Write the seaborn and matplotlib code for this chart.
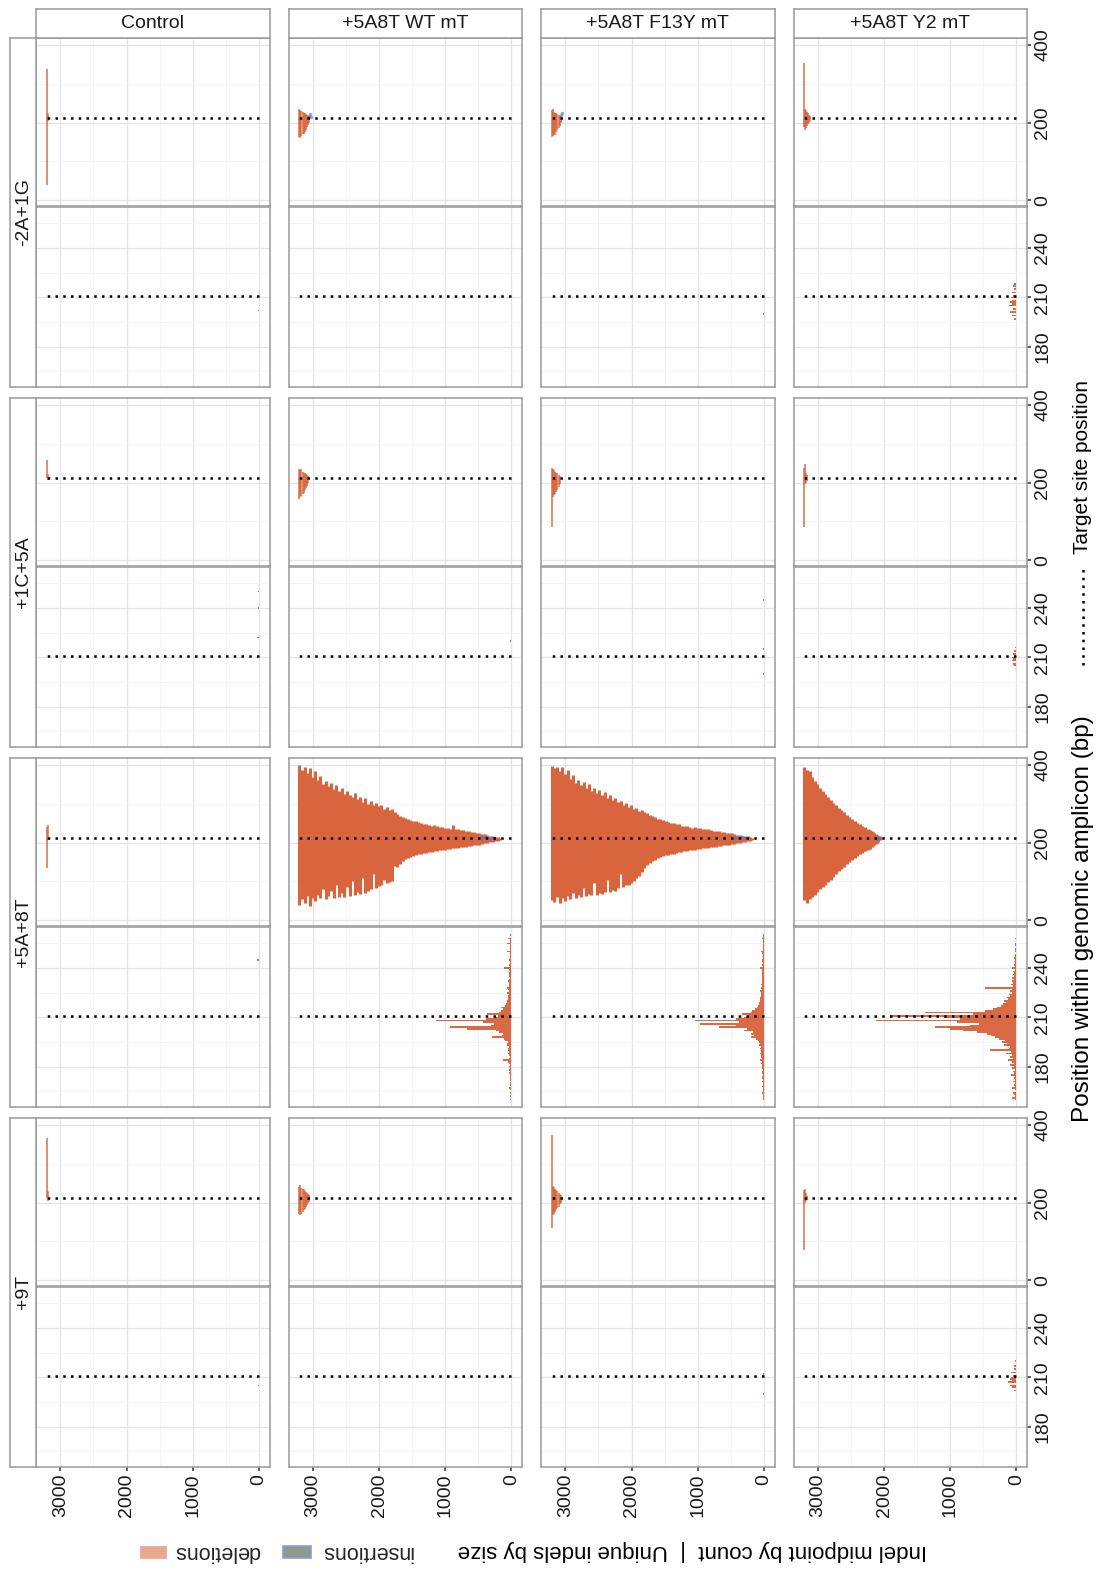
import numpy as np
import pandas as pd
import matplotlib
matplotlib.use("Agg")
import matplotlib.pyplot as plt
from matplotlib.patches import Rectangle
from matplotlib.lines import Line2D
import seaborn as sns

sns.set_theme(style="white")
plt.rcParams['font.family'] = ['Liberation Sans', 'DejaVu Sans']

# ---------------- data ----------------
columns = ['Control', '+5A8T WT mT', '+5A8T F13Y mT', '+5A8T Y2 mT']
groups = ['-2A+1G', '+1C+5A', '+5A+8T', '+9T']
value_ticks = [0, 1000, 2000, 3000]
size_ticks = [0, 200, 400]
count_ticks = [180, 210, 240]
target_site = 211
target_rank_max = 3207

# unique deletions by size: (rank, start, end)
size_ctrl_2A1G = [(3207, 40, 338), (3192, 205, 224), (3180, 208, 216)]
size_wt_2A1G = [(3207, 164, 236), (3190, 160, 232), (3172, 166, 230), (3155, 170, 228),
                (3138, 172, 226), (3120, 176, 224), (3102, 182, 222), (3085, 188, 220),
                (3068, 194, 218), (3052, 200, 216)]
size_f13y_2A1G = [(3207, 162, 232), (3190, 166, 236), (3172, 170, 228), (3155, 168, 226),
                  (3138, 176, 224), (3120, 180, 222), (3102, 186, 220), (3085, 192, 218),
                  (3068, 198, 216)]
size_y2_2A1G = [(3207, 190, 355), (3192, 180, 236), (3176, 186, 232), (3160, 192, 228),
                (3144, 196, 224), (3128, 200, 220), (3112, 204, 218)]

size_ctrl_1C5A = [(3207, 212, 258), (3192, 206, 222)]
size_wt_1C5A = [(3207, 158, 236), (3190, 162, 232), (3172, 166, 234), (3155, 170, 228),
                (3138, 174, 226), (3120, 180, 224), (3102, 186, 222), (3085, 192, 220),
                (3068, 198, 217)]
size_f13y_1C5A = [(3207, 85, 237), (3190, 164, 234), (3172, 168, 232), (3155, 172, 228),
                  (3138, 176, 226), (3120, 182, 224), (3102, 190, 220), (3085, 196, 217)]
size_y2_1C5A = [(3207, 85, 237), (3190, 196, 248), (3174, 200, 226), (3158, 204, 220)]

size_ctrl_5A8T = [(3207, 134, 240), (3192, 207, 245)]
size_wt_5A8T = [
    (3204, 40, 399), (3165, 55, 388), (3125, 45, 396), (3085, 62, 380), (3045, 36, 392),
    (3005, 58, 370), (2965, 50, 385), (2925, 66, 362), (2885, 57, 372), (2845, 80, 350),
    (2805, 56, 360), (2765, 62, 345), (2725, 75, 355), (2685, 58, 338), (2645, 92, 348),
    (2605, 61, 332), (2565, 70, 340), (2525, 59, 326), (2485, 85, 334), (2445, 63, 322),
    (2405, 100, 318), (2365, 66, 328), (2325, 72, 312), (2285, 68, 318), (2245, 110, 306),
    (2205, 70, 314), (2165, 76, 300), (2125, 80, 308), (2085, 120, 296), (2045, 84, 302),
    (2005, 88, 294), (1965, 90, 298), (1925, 105, 288), (1885, 95, 292), (1845, 98, 284),
    (1805, 102, 288), (1765, 140, 280), (1725, 138, 274), (1685, 145, 270), (1645, 152, 266),
    (1605, 158, 264), (1565, 160, 262), (1525, 164, 258), (1485, 166, 255), (1445, 168, 256),
    (1405, 170, 252), (1365, 171, 250), (1325, 173, 248), (1285, 174, 249), (1245, 176, 245),
    (1205, 177, 244), (1165, 178, 246), (1125, 179, 242), (1085, 180, 240), (1045, 181, 241),
    (1005, 182, 238), (965, 183, 239), (925, 184, 236), (885, 185, 246), (845, 186, 235),
    (805, 187, 234), (765, 188, 233), (725, 189, 232), (685, 190, 230), (645, 191, 229),
    (605, 192, 228), (565, 193, 227), (525, 194, 226), (485, 195, 224), (445, 196, 223),
    (405, 198, 222), (365, 199, 220), (325, 201, 218), (285, 202, 217), (245, 204, 215),
    (205, 205, 214), (175, 206, 213)]
size_f13y_5A8T = [
    (3204, 52, 398), (3165, 48, 392), (3125, 60, 396), (3085, 45, 385), (3045, 58, 394),
    (3005, 50, 378), (2965, 62, 388), (2925, 55, 365), (2885, 70, 375), (2845, 58, 355),
    (2805, 65, 362), (2765, 60, 348), (2725, 82, 356), (2685, 62, 340), (2645, 68, 350),
    (2605, 64, 334), (2565, 95, 342), (2525, 66, 328), (2485, 70, 336), (2445, 68, 322),
    (2405, 74, 330), (2365, 105, 316), (2325, 72, 322), (2285, 78, 310), (2245, 76, 314),
    (2205, 82, 304), (2165, 118, 308), (2125, 85, 298), (2085, 90, 302), (2045, 92, 292),
    (2005, 96, 296), (1965, 100, 288), (1925, 110, 290), (1885, 115, 282), (1845, 125, 284),
    (1805, 135, 278), (1765, 142, 276), (1725, 148, 272), (1685, 152, 268), (1645, 156, 266),
    (1605, 160, 262), (1565, 162, 260), (1525, 165, 258), (1485, 167, 255), (1445, 169, 254),
    (1405, 171, 251), (1365, 172, 250), (1325, 174, 247), (1285, 175, 248), (1245, 177, 244),
    (1205, 178, 243), (1165, 179, 244), (1125, 180, 241), (1085, 181, 239), (1045, 182, 240),
    (1005, 183, 237), (965, 184, 238), (925, 185, 235), (885, 186, 234), (845, 187, 236),
    (805, 188, 232), (765, 189, 231), (725, 190, 230), (685, 191, 229), (645, 192, 228),
    (605, 193, 227), (565, 194, 226), (525, 195, 225), (485, 196, 224), (445, 197, 222),
    (405, 198, 221), (365, 200, 220), (325, 201, 218), (285, 203, 217), (245, 204, 216),
    (205, 205, 214), (175, 206, 213)]
size_y2_5A8T = [
    (3207, 52, 394), (3185, 60, 380), (3165, 45, 388), (3145, 66, 372), (3125, 56, 384),
    (3105, 70, 360), (3085, 60, 370), (3065, 78, 352), (3045, 66, 358), (3025, 85, 345),
    (3005, 72, 350), (2985, 90, 336), (2965, 80, 342), (2945, 96, 328), (2925, 86, 334),
    (2905, 102, 320), (2885, 92, 326), (2865, 108, 312), (2845, 98, 318), (2825, 115, 304),
    (2805, 104, 310), (2785, 122, 298), (2765, 112, 302), (2745, 128, 292), (2725, 120, 296),
    (2705, 134, 286), (2685, 126, 290), (2665, 140, 280), (2645, 132, 284), (2625, 146, 274),
    (2605, 138, 278), (2585, 150, 268), (2565, 144, 272), (2545, 156, 264), (2525, 150, 266),
    (2505, 160, 258), (2485, 156, 262), (2465, 164, 254), (2445, 161, 256), (2425, 168, 250),
    (2405, 166, 251), (2385, 172, 246), (2365, 170, 247), (2345, 176, 242), (2325, 174, 243),
    (2305, 179, 239), (2285, 178, 240), (2265, 182, 236), (2245, 181, 235), (2225, 185, 232),
    (2205, 184, 232), (2185, 188, 229), (2165, 191, 227), (2145, 194, 225), (2125, 197, 222),
    (2105, 200, 220), (2085, 203, 218), (2065, 206, 216)]

size_ctrl_9T = [(3207, 212, 366), (3192, 205, 230)]
size_wt_9T = [(3207, 170, 240), (3190, 168, 245), (3172, 172, 238), (3155, 176, 236),
              (3138, 180, 234), (3120, 184, 230), (3102, 188, 228), (3085, 194, 226),
              (3068, 198, 222), (3050, 202, 219)]
size_f13y_9T = [(3207, 134, 374), (3190, 168, 244), (3172, 172, 240), (3155, 176, 236),
                (3138, 180, 232), (3120, 186, 230), (3102, 190, 226), (3085, 196, 222),
                (3068, 200, 219)]
size_y2_9T = [(3207, 77, 232), (3192, 200, 235), (3176, 204, 224), (3160, 207, 218)]

# insertions by size: (rank, position)
ins_wt_2A1G = [(3060, 218), (3040, 222), (3030, 215)]
ins_f13y_2A1G = [(3070, 220), (3050, 224)]
ins_wt_5A8T = [(450, 212), (400, 214), (350, 211), (300, 213), (260, 210)]
ins_f13y_5A8T = [(430, 213), (380, 211), (330, 214), (280, 212)]
ins_y2_5A8T = [(2110, 212), (2090, 210), (2070, 213)]

# indel midpoints by count: positions start at 160, one value per bp
count_start = 160
count_wt_5A8T = [15, 10, 25, 12, 20, 8, 18, 30, 12, 15, 22, 10, 28, 18, 25, 14, 30, 20, 35, 25,
                 40, 22, 30, 45, 120, 35, 28, 40, 50, 35, 45, 55, 40, 60, 70, 55, 90, 110, 290, 140,
                 120, 180, 240, 675, 927, 310, 260, 424, 1143, 380, 250, 200, 373, 180, 150, 120, 160, 90, 75, 60,
                 70, 50, 45, 55, 40, 60, 35, 45, 70, 30, 40, 35, 45, 30, 25, 40, 30, 35, 25, 30,
                 110, 25, 30, 20, 25, 30, 20, 25, 18, 22, 60, 20, 15, 25, 18, 60, 15, 20, 50, 12, 15]
count_f13y_5A8T = [20, 12, 18, 10, 25, 15, 12, 20, 30, 14, 18, 25, 12, 22, 30, 18, 24, 35, 20, 28,
                   30, 25, 40, 35, 60, 30, 45, 38, 55, 40, 50, 60, 48, 70, 65, 80, 95, 120, 200, 150,
                   200, 160, 300, 250, 680, 420, 960, 380, 1040, 420, 300, 220, 330, 200, 180, 140, 110, 95, 80, 70,
                   60, 55, 65, 45, 50, 40, 55, 35, 45, 30, 40, 35, 30, 25, 35, 28, 30, 22, 25, 30,
                   60, 20, 25, 18, 22, 25, 15, 20, 18, 25, 40, 15, 20, 12, 18, 15, 10, 14, 30, 10, 12]
count_y2_5A8T = [20, 60, 15, 30, 45, 10, 25, 70, 20, 35, 15, 50, 25, 40, 20, 80, 30, 45, 25, 60,
                 35, 90, 40, 70, 120, 50, 95, 60, 150, 80, 400, 110, 90, 180, 140, 220, 170, 260, 320, 380,
                 450, 600, 800, 1000, 1230, 700, 560, 900, 2121, 850, 1100, 1905, 650, 1380, 480, 350, 300, 240, 200, 160,
                 180, 120, 140, 90, 110, 70, 95, 60, 480, 55, 80, 45, 70, 40, 60, 35, 50, 30, 45, 25,
                 60, 20, 40, 25, 35, 15, 30, 20, 25, 10, 20, 15, 25, 10, 15, 20, 8, 12, 15, 10, 8]

# sparse counts (position, count)
count_ctrl_2A1G = [(202, 12), (215, 6)]
count_wt_2A1G = [(200, 8), (210, 10), (222, 6)]
count_f13y_2A1G = [(185, 6), (200, 8), (210, 10), (225, 6), (240, 6)]
count_y2_2A1G = [(197, 40), (199, 60), (201, 90), (203, 50), (205, 112), (206, 70), (207, 95),
                 (208, 60), (210, 80), (211, 45), (213, 70), (215, 35), (217, 50), (218, 30),
                 (225, 12), (240, 8)]
count_ctrl_1C5A = [(222, 25), (240, 20), (250, 12)]
count_wt_1C5A = [(190, 10), (220, 15), (239, 12), (250, 10)]
count_f13y_1C5A = [(180, 6), (200, 8), (215, 8), (245, 10)]
count_y2_1C5A = [(205, 40), (206, 55), (208, 70), (209, 45), (210, 60), (212, 50), (214, 35), (216, 20)]
count_ctrl_5A8T = [(245, 30)]
count_ctrl_9T = [(205, 8), (235, 6)]
count_wt_9T = [(188, 12), (210, 10), (220, 8)]
count_f13y_9T = [(175, 6), (200, 8), (212, 10), (230, 6), (250, 6)]
count_y2_9T = [(202, 30), (204, 60), (205, 90), (207, 125), (208, 70), (209, 100), (210, 80),
               (211, 55), (213, 75), (215, 40), (217, 30), (220, 20), (230, 10), (245, 8)]

size_data = {
    ('-2A+1G', 0): size_ctrl_2A1G, ('-2A+1G', 1): size_wt_2A1G, ('-2A+1G', 2): size_f13y_2A1G, ('-2A+1G', 3): size_y2_2A1G,
    ('+1C+5A', 0): size_ctrl_1C5A, ('+1C+5A', 1): size_wt_1C5A, ('+1C+5A', 2): size_f13y_1C5A, ('+1C+5A', 3): size_y2_1C5A,
    ('+5A+8T', 0): size_ctrl_5A8T, ('+5A+8T', 1): size_wt_5A8T, ('+5A+8T', 2): size_f13y_5A8T, ('+5A+8T', 3): size_y2_5A8T,
    ('+9T', 0): size_ctrl_9T, ('+9T', 1): size_wt_9T, ('+9T', 2): size_f13y_9T, ('+9T', 3): size_y2_9T,
}
ins_data = {('-2A+1G', 1): ins_wt_2A1G, ('-2A+1G', 2): ins_f13y_2A1G,
            ('+5A+8T', 1): ins_wt_5A8T, ('+5A+8T', 2): ins_f13y_5A8T, ('+5A+8T', 3): ins_y2_5A8T}
dense_counts = {('+5A+8T', 1): count_wt_5A8T, ('+5A+8T', 2): count_f13y_5A8T, ('+5A+8T', 3): count_y2_5A8T}
sparse_counts = {
    ('-2A+1G', 0): count_ctrl_2A1G, ('-2A+1G', 1): count_wt_2A1G, ('-2A+1G', 2): count_f13y_2A1G, ('-2A+1G', 3): count_y2_2A1G,
    ('+1C+5A', 0): count_ctrl_1C5A, ('+1C+5A', 1): count_wt_1C5A, ('+1C+5A', 2): count_f13y_1C5A, ('+1C+5A', 3): count_y2_1C5A,
    ('+5A+8T', 0): count_ctrl_5A8T,
    ('+9T', 0): count_ctrl_9T, ('+9T', 1): count_wt_9T, ('+9T', 2): count_f13y_9T, ('+9T', 3): count_y2_9T,
}

# ---------------- styling / layout ----------------
DEL = '#D55A30'
DEL_BIG = '#D9653F'
INS = '#4B6BD6'
BORDER = '#9A9A9A'
TXT = '#1A1A1A'
W, H = 1102, 1574
fig = plt.figure(figsize=(W / 100, H / 100), dpi=100)

COL_L = [36, 288.5, 541, 793.5]
COL_W = 233.5
GROUP_T = [37.7, 397.7, 757.7, 1117.7]
TOP_H = 168.0
LOW_OFF = 169.5
LOW_H = 179.5
VLIM = (3367, -160)
TOP_LIM = (-14, 419)
LOW_LIM = (155.6, 264.9)


def add_ax(l, t, w, h):
    return fig.add_axes([l / W, 1 - (t + h) / H, w / W, h / H])


def style(ax, ylim, ymaj, ymin, bottom, right):
    ax.set_xlim(*VLIM)
    ax.set_ylim(*ylim)
    ax.set_facecolor('white')
    ax.set_xticks(value_ticks)
    ax.set_xticks([500, 1500, 2500], minor=True)
    ax.set_yticks(ymaj)
    ax.set_yticks(ymin, minor=True)
    ax.grid(which='major', color='#E4E4E4', lw=0.9)
    ax.grid(which='minor', color='#F3F3F3', lw=0.6)
    ax.set_axisbelow(True)
    for s in ax.spines.values():
        s.set_color(BORDER)
        s.set_linewidth(1.1)
    ax.tick_params(which='minor', length=0)
    ax.tick_params(axis='x', which='major', bottom=bottom, labelbottom=bottom, top=False,
                   length=3.2, width=1.1, color='#333333', labelsize=14, labelcolor=TXT,
                   labelrotation=90, pad=2)
    ax.yaxis.tick_right()
    ax.tick_params(axis='y', which='major', left=False, labelleft=False, right=right,
                   labelright=right, length=3.2, width=1.1, color='#333333', labelsize=14,
                   labelcolor=TXT, labelrotation=90, pad=2)
    if right:
        for lab in ax.get_yticklabels():
            lab.set_va('center')
    ax.set_xlabel('')
    ax.set_ylabel('')


dot_style = (0, (1, 2.1))

for gi, g in enumerate(groups):
    T = GROUP_T[gi]
    for ci, c in enumerate(columns):
        L = COL_L[ci]
        last_col = ci == 3
        last_row = gi == 3
        # --- top: unique indels by size ---
        ax = add_ax(L, T, COL_W, TOP_H)
        segs = pd.DataFrame(size_data[(g, ci)], columns=['rank', 'start', 'end'])
        big = len(segs) > 30
        if big:
            ax.vlines(segs['rank'], segs['start'], segs['end'], colors=DEL_BIG,
                      lw=2.2, alpha=1.0, zorder=2)
        else:
            ax.vlines(segs['rank'], segs['start'], segs['end'], colors=DEL,
                      lw=1.3, alpha=0.75, zorder=2)
        if (g, ci) in ins_data:
            ins = pd.DataFrame(ins_data[(g, ci)], columns=['rank', 'pos'])
            sns.scatterplot(data=ins, x='rank', y='pos', ax=ax, color=INS, s=6,
                            alpha=0.6, linewidth=0, zorder=3, legend=False)
        ax.plot([0, target_rank_max], [target_site, target_site], color='black',
                lw=1.8, ls=dot_style, zorder=4)
        style(ax, TOP_LIM, size_ticks, [100, 300], False, last_col)

        # --- bottom: indel midpoint by count ---
        ax2 = add_ax(L, T + LOW_OFF, COL_W, LOW_H)
        if (g, ci) in dense_counts:
            vals = dense_counts[(g, ci)]
            df = pd.DataFrame({'pos': count_start + np.arange(len(vals)), 'count': vals})
        else:
            df = pd.DataFrame(sparse_counts.get((g, ci), []), columns=['pos', 'count'])
        if len(df):
            ax2.barh(df['pos'], df['count'], height=1.0, left=0, color=DEL,
                     edgecolor='none', alpha=0.9, zorder=2)
        ax2.plot([0, target_rank_max], [target_site, target_site], color='black',
                 lw=1.8, ls=dot_style, zorder=4)
        style(ax2, LOW_LIM, count_ticks, [165, 195, 225, 255], last_row, last_col)

# ---------------- strips ----------------
for ci, c in enumerate(columns):
    sax = add_ax(COL_L[ci], 9.3, COL_W, 28.4)
    sax.set_xticks([]); sax.set_yticks([])
    sax.set_facecolor('white')
    for s in sax.spines.values():
        s.set_color(BORDER); s.set_linewidth(1.1)
    sax.text(0.5, 0.5, c, ha='center', va='center', fontsize=14, color=TXT,
             transform=sax.transAxes)
for gi, g in enumerate(groups):
    sax = add_ax(10.3, GROUP_T[gi], 25.7, 349)
    sax.set_xticks([]); sax.set_yticks([])
    sax.set_facecolor('white')
    for s in sax.spines.values():
        s.set_color(BORDER); s.set_linewidth(1.1)
    sax.text(0.5, 0.5, g, ha='center', va='center', fontsize=14, color=TXT,
             rotation=90, transform=sax.transAxes)

# ---------------- titles & legends ----------------
fig.text(1083 / W, 1 - 919 / H, 'Position within genomic amplicon (bp)', rotation=90,
         ha='center', va='center', fontsize=17.5, color='black')
fig.text(692 / W, 1 - 1551 / H, 'Indel midpoint by count  |  Unique indels by size', rotation=180,
         ha='center', va='center', fontsize=16, color='black')
# target site legend
fig.add_artist(Line2D([1083 / W, 1083 / W], [1 - 665 / H, 1 - 566 / H], color='black',
                      lw=1.8, ls=dot_style, transform=fig.transFigure))
fig.text(1083 / W, 1 - 467 / H, 'Target site position', rotation=90, ha='center', va='center',
         fontsize=15, color='black')
# fill legend
fig.add_artist(Rectangle((140 / W, 1 - 1558 / H), 26 / W, 12 / H, facecolor='#E8A88E',
                         edgecolor='#EBB39C', lw=0.8, transform=fig.transFigure))
fig.text(217 / W, 1 - 1551 / H, 'deletions', rotation=180, ha='center', va='center', fontsize=15.5)
fig.add_artist(Rectangle((283 / W, 1 - 1558 / H), 28 / W, 12 / H, facecolor='#8E9A8C',
                         edgecolor='#9098E0', lw=1.2, transform=fig.transFigure))
fig.text(367 / W, 1 - 1551 / H, 'insertions', rotation=180, ha='center', va='center', fontsize=15.5)

fig.savefig('out.png', dpi=100)
